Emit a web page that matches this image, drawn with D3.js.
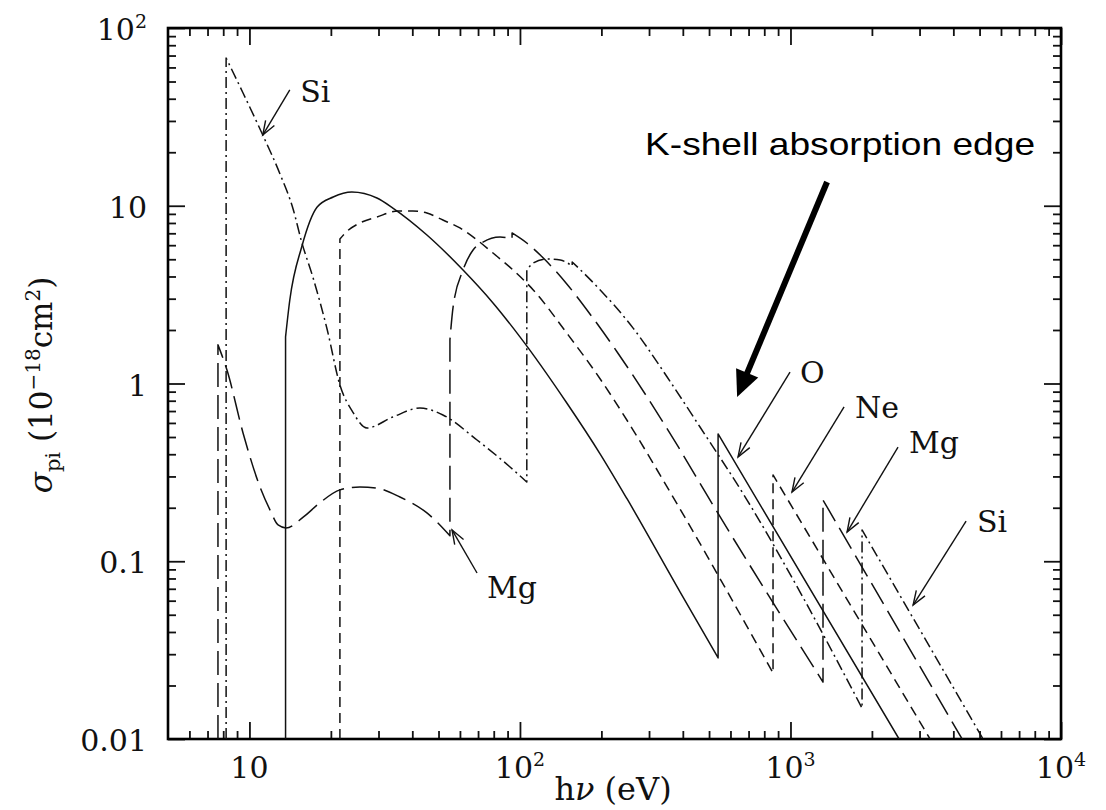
<!DOCTYPE html>
<html><head><meta charset="utf-8">
<script src="https://cdn.jsdelivr.net/npm/d3@7"></script>
<style>body{margin:0;background:#fff;} svg{display:block;}</style>
</head><body>
<svg id="chart" width="1106" height="810"></svg>
<script>
// ---------------- data (photon energy in eV, cross-section in 1e-18 cm^2) ----------------
const oxygenE     = [13.6, 13.6, 14.1, 15.6, 17.8, 20.4, 23.9, 29.6, 33.9, 45.3, 61.6, 79.5, 100, 149, 198, 249, 391, 540, 540, 2520];
const oxygenSigma = [0.01, 1.83, 2.95, 5.86, 9.84, 11.2, 11.95, 11.05, 9.71, 6.85, 4.35, 2.84, 1.83, 0.777, 0.401, 0.224, 0.0671, 0.0286, 0.520, 0.01];

const neonE     = [21.6, 21.6, 22.6, 25.6, 29.6, 35.4, 40.2, 45.3, 51.9, 60.0, 69.4, 79.5, 94.3, 112, 149, 198, 262, 359, 862, 862, 3281];
const neonSigma = [0.01, 6.50, 7.03, 8.0, 8.65, 9.34, 9.34, 9.10, 8.31, 7.50, 6.42, 5.42, 4.35, 3.36, 1.92, 1.06, 0.547, 0.245, 0.0235, 0.306, 0.01];

const magnesiumE     = [7.65, 7.65, 8.26, 9.47, 10.94, 11.92, 12.76, 13.65, 15.8, 18.2, 21.6, 25.6, 29.6, 36.0, 45.3, 55.1, 55.1, 56.6, 61.6, 67.1, 73.0, 84.4, 93.5, 93.5, 106, 122, 149, 186, 229, 295, 381, 496, 1319, 1319, 4309];
const magnesiumSigma = [0.01, 1.65, 1.19, 0.527, 0.262, 0.194, 0.160, 0.154, 0.177, 0.213, 0.252, 0.262, 0.258, 0.230, 0.187, 0.139, 1.76, 2.69, 4.35, 5.64, 6.25, 6.67, 6.50, 7.03, 6.17, 5.08, 3.63, 2.34, 1.50, 0.840, 0.451, 0.230, 0.0209, 0.221, 0.01];

const siliconE     = [8.2, 8.2, 9.47, 11.2, 12.97, 14.5, 15.6, 17.2, 19.4, 21.6, 24.1, 27.2, 33.9, 42.7, 51.9, 69.4, 91.9, 106, 106, 112, 126, 141, 156, 156, 198, 262, 350, 463, 691, 1085, 1839, 1839, 5152];
const siliconSigma = [0.01, 67.8, 43.1, 25.0, 15.1, 9.59, 6.25, 3.92, 2.00, 0.981, 0.691, 0.562, 0.648, 0.728, 0.665, 0.481, 0.339, 0.279, 4.35, 4.76, 5.02, 4.95, 4.58, 4.83, 3.36, 2.05, 1.088, 0.569, 0.221, 0.0671, 0.0149, 0.150, 0.01];

// tick values and labels
const xMajorTicks = [10, 100, 1000, 10000];
const xTickBase   = ["10", "10", "10", "10"];
const xTickExp    = ["", "2", "3", "4"];
const yMajorTicks = [0.01, 0.1, 1, 10, 100];
const yTickBase   = ["0.01", "0.1", "1", "10", "10"];
const yTickExp    = ["", "", "", "", "2"];

// annotations (in data units)
const annLabels = ["Si", "Mg", "O", "Ne", "Mg", "Si"];
const annTextE  = [15.4, 75.5, 1085, 1733, 2744, 4895];
const annTextS  = [38.3, 0.0621, 1.006, 0.640, 0.407, 0.146];
const annFromE  = [14.1, 69.4, 996, 1578, 2498, 4458];
const annFromS  = [44.8, 0.0859, 1.16, 0.738, 0.439, 0.168];
const annToE    = [11.2, 56.1, 640, 1013, 1619, 2840];
const annToS    = [25.0, 0.150, 0.386, 0.245, 0.146, 0.0567];
const kEdgeText = "K-shell absorption edge";
const kEdgeTextPos = [290, 19.3];
const kEdgeArrowFrom = [1365, 13.6];
const kEdgeArrowTo = [635, 0.84];

// ---------------- layout ----------------
const L = 168, R = 1061, T = 28, B = 739;
const svg = d3.select("#chart");
const x = d3.scaleLog().domain([5, 1e4]).range([L, R]);
const y = d3.scaleLog().domain([0.01, 100]).range([B, T]);

const serif = "'DejaVu Serif', serif";

// minor ticks
const xMinor = [], yMinor = [];
[1, 10, 100, 1000].forEach(d => { for (let k = 2; k <= 9; k++) { const v = d * k; if (v > 5 && v < 1e4) xMinor.push(v); } });
[0.01, 0.1, 1, 10].forEach(d => { for (let k = 2; k <= 9; k++) yMinor.push(d * k); });

function tickAxis(axisFn, scale, values, size, transform) {
  const g = svg.append("g").attr("transform", transform)
    .call(axisFn(scale).tickValues(values).tickSize(-size).tickSizeOuter(0).tickFormat(""));
  g.select(".domain").remove();
  g.selectAll("line").attr("stroke", "#111").attr("stroke-width", 1.8);
}
tickAxis(d3.axisBottom, x, xMajorTicks, 17, `translate(0,${B})`);
tickAxis(d3.axisBottom, x, xMinor, 8, `translate(0,${B})`);
tickAxis(d3.axisTop, x, xMajorTicks, 17, `translate(0,${T})`);
tickAxis(d3.axisTop, x, xMinor, 8, `translate(0,${T})`);
tickAxis(d3.axisLeft, y, yMajorTicks, 17, `translate(${L},0)`);
tickAxis(d3.axisLeft, y, yMinor, 8, `translate(${L},0)`);
tickAxis(d3.axisRight, y, yMajorTicks, 17, `translate(${R},0)`);
tickAxis(d3.axisRight, y, yMinor, 8, `translate(${R},0)`);

// frame
svg.append("rect").attr("x", L).attr("y", T).attr("width", R - L).attr("height", B - T)
  .attr("fill", "none").attr("stroke", "#000").attr("stroke-width", 2.6);

// tick labels
xMajorTicks.forEach((v, i) => {
  const t = svg.append("text").attr("x", x(v)).attr("y", B + 39)
    .attr("text-anchor", "middle").attr("font-family", serif).attr("font-size", 30).attr("fill", "#111")
    .text(xTickBase[i]);
  if (xTickExp[i]) t.append("tspan").attr("font-size", 19).attr("dy", -12).text(xTickExp[i]);
});
yMajorTicks.forEach((v, i) => {
  const t = svg.append("text").attr("x", L - 21).attr("y", y(v) + 12)
    .attr("text-anchor", "end").attr("font-family", serif).attr("font-size", 30).attr("fill", "#111")
    .text(yTickBase[i]);
  if (yTickExp[i]) t.append("tspan").attr("font-size", 19).attr("dy", -12).text(yTickExp[i]);
});

// axis titles
const xt = svg.append("text").attr("x", 613).attr("y", 800).attr("text-anchor", "middle")
  .attr("font-family", serif).attr("font-size", 32).attr("fill", "#111");
xt.append("tspan").text("h");
xt.append("tspan").attr("font-style", "italic").text("ν");
xt.append("tspan").text(" (eV)");

const yt = svg.append("text").attr("transform", "translate(52,385) rotate(-90)").attr("text-anchor", "middle")
  .attr("font-family", serif).attr("font-size", 31).attr("fill", "#111");
yt.append("tspan").attr("font-style", "italic").text("σ");
yt.append("tspan").attr("font-size", 21).attr("dy", 8).text("pi");
yt.append("tspan").attr("dy", -8).text(" (10");
yt.append("tspan").attr("font-size", 20).attr("dy", -12).text("−18");
yt.append("tspan").attr("dy", 12).text("cm");
yt.append("tspan").attr("font-size", 20).attr("dy", -12).text("2");
yt.append("tspan").attr("dy", 12).text(")");

// curves
svg.append("clipPath").attr("id", "plotclip").append("rect")
  .attr("x", L).attr("y", T).attr("width", R - L).attr("height", B - T);

function buildPath(E, S) {
  const pts = E.map((e, i) => [x(e), y(S[i])]);
  const pieces = [];
  let cur = [pts[0]];
  for (let i = 1; i < pts.length; i++) {
    if (E[i] === E[i - 1]) { pieces.push(cur); cur = [pts[i]]; }
    else cur.push(pts[i]);
  }
  pieces.push(cur);
  const line = d3.line().curve(d3.curveMonotoneX);
  let d = "";
  pieces.forEach((p, k) => {
    let seg = p.length > 1 ? line(p) : `M${p[0][0]},${p[0][1]}`;
    if (k > 0) seg = "L" + seg.slice(1);
    d += seg;
  });
  return d;
}

const series = [
  { E: oxygenE, S: oxygenSigma, dash: null },
  { E: neonE, S: neonSigma, dash: "10,6" },
  { E: magnesiumE, S: magnesiumSigma, dash: "24,8" },
  { E: siliconE, S: siliconSigma, dash: "11,4,2,4" }
];
const cg = svg.append("g").attr("clip-path", "url(#plotclip)");
series.forEach(s => {
  cg.append("path").attr("d", buildPath(s.E, s.S)).attr("fill", "none")
    .attr("stroke", "#111").attr("stroke-width", 1.5).attr("stroke-linejoin", "round")
    .attr("stroke-dasharray", s.dash);
});

// annotations
function barbs(tx, ty, fx, fy, len, ang) {
  const dx = fx - tx, dy = fy - ty, n = Math.hypot(dx, dy);
  const ux = dx / n, uy = dy / n, a = ang * Math.PI / 180;
  const r = s => [tx + len * (ux * Math.cos(s * a) - uy * Math.sin(s * a)), ty + len * (ux * Math.sin(s * a) + uy * Math.cos(s * a))];
  return [r(1), r(-1)];
}
annLabels.forEach((lab, i) => {
  const fx = x(annFromE[i]), fy = y(annFromS[i]), tx = x(annToE[i]), ty = y(annToS[i]);
  svg.append("line").attr("x1", fx).attr("y1", fy).attr("x2", tx).attr("y2", ty)
    .attr("stroke", "#111").attr("stroke-width", 1.4);
  const [b1, b2] = barbs(tx, ty, fx, fy, 15, 20);
  svg.append("path").attr("d", `M${b1[0]},${b1[1]}L${tx},${ty}L${b2[0]},${b2[1]}`)
    .attr("fill", "none").attr("stroke", "#111").attr("stroke-width", 1.4);
  svg.append("text").attr("x", x(annTextE[i])).attr("y", y(annTextS[i]))
    .attr("font-family", serif).attr("font-size", 30).attr("fill", "#111").text(lab);
});

// K-shell arrow
{
  const fx = x(kEdgeArrowFrom[0]), fy = y(kEdgeArrowFrom[1]);
  const tx = x(kEdgeArrowTo[0]), ty = y(kEdgeArrowTo[1]);
  const dx = fx - tx, dy = fy - ty, n = Math.hypot(dx, dy), ux = dx / n, uy = dy / n;
  const hl = 26, hw = 12;
  const bx = tx + ux * hl, by = ty + uy * hl;
  svg.append("line").attr("x1", fx).attr("y1", fy).attr("x2", bx + ux * -2).attr("y2", by + uy * -2)
    .attr("stroke", "#000").attr("stroke-width", 6);
  svg.append("path").attr("d", `M${tx},${ty}L${bx - uy * hw},${by + ux * hw}L${bx + uy * hw},${by - ux * hw}Z`)
    .attr("fill", "#000");
  svg.append("text").attr("x", x(kEdgeTextPos[0])).attr("y", y(kEdgeTextPos[1]))
    .attr("font-family", "'Liberation Sans', Arial, sans-serif").attr("font-size", 32)
    .attr("textLength", 390).attr("lengthAdjust", "spacingAndGlyphs").attr("fill", "#000").text(kEdgeText);
}
</script>
</body></html>
